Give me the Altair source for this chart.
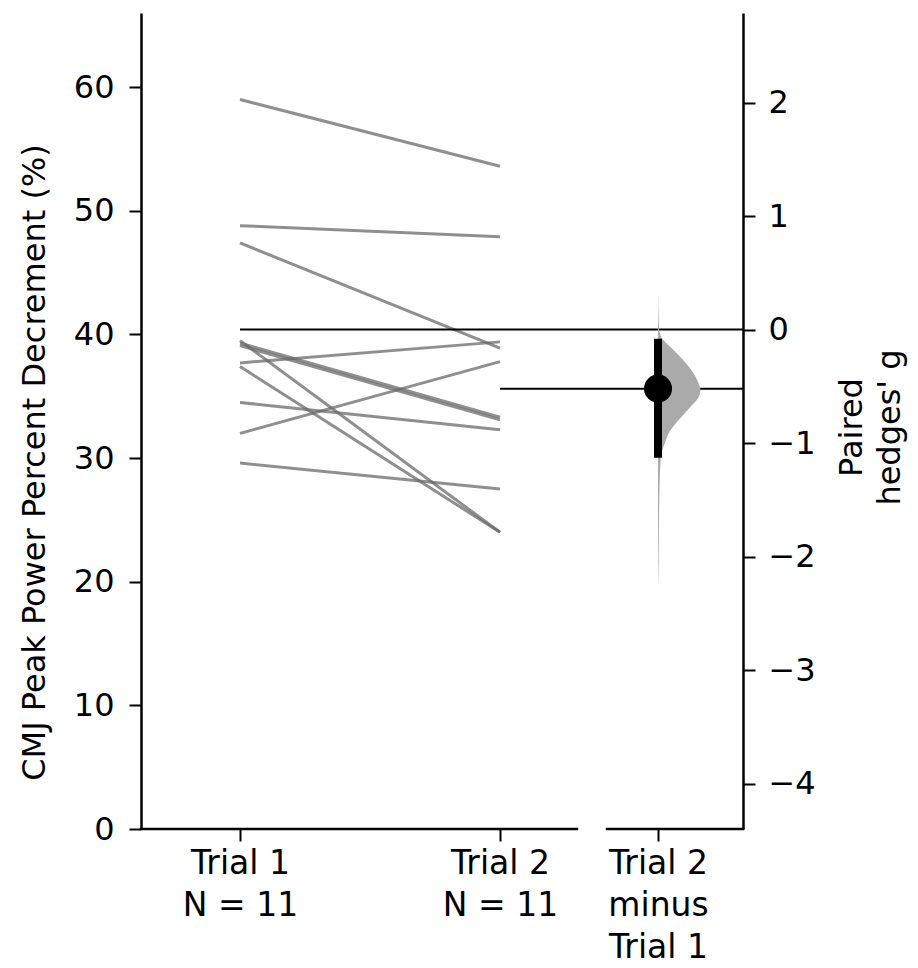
import altair as alt
import pandas as pd

# ---------------- data ----------------
groups = ["Trial 1", "Trial 2"]
trial1 = [59.0, 48.8, 47.4, 39.5, 39.3, 39.1, 37.7, 37.4, 34.5, 32.0, 29.6]
trial2 = [53.6, 47.9, 38.9, 24.0, 33.3, 33.1, 39.4, 24.0, 32.3, 37.8, 27.5]

effect_size = -0.52          # paired Hedges' g
ci_low, ci_high = -1.13, -0.08

violin_g = [0.31, 0.13, 0.01, -0.02, -0.09, -0.16, -0.24, -0.31, -0.38, -0.45,
            -0.53, -0.60, -0.67, -0.75, -0.82, -0.89, -0.97, -1.04, -1.11,
            -1.18, -1.33, -1.62, -1.91, -2.20, -2.25]
violin_density = [0.0, 0.012, 0.024, 0.036, 0.12, 0.31, 0.52, 0.69, 0.83, 0.93,
                  1.0, 0.95, 0.79, 0.60, 0.43, 0.29, 0.19, 0.12, 0.07,
                  0.055, 0.04, 0.024, 0.017, 0.007, 0.0]

left_ticks = [0, 10, 20, 30, 40, 50, 60]
right_ticks = [-4, -3, -2, -1, 0, 1, 2]

# ---------------- layout helpers ----------------
FONT = "DejaVu Sans"
W, H = 602, 816
x_min, x_max = -0.3808, 1.9346      # x units: Trial 1 = 0, Trial 2 = 1
delta_pos = 1.6077
gap_left, gap_right = 1.296, 1.4115
y_top = 66.0
violin_max_w = 0.163

n = len(trial1)
m1 = sum(trial1) / n
m2 = sum(trial2) / n
k = (m2 - m1) / effect_size           # raw units per g unit
g_min = (0 - m1) / k
g_max = (y_top - m1) / k

rows = []
for i in range(n):
    rows.append({"subject": i, "pos": 0, "value": trial1[i]})
    rows.append({"subject": i, "pos": 1, "value": trial2[i]})
df_lines = pd.DataFrame(rows)

df_means = pd.DataFrame({"pos": [0, 1], "x2": [x_max, x_max], "value": [m1, m2]})
df_spine = pd.DataFrame({"pos": [x_min, gap_right], "x2": [gap_left, x_max], "value": [0, 0]})

df_v = pd.DataFrame({
    "g": violin_g,
    "pos": [delta_pos] * len(violin_g),
    "x1": [delta_pos + d * violin_max_w for d in violin_density],
})
df_ci = pd.DataFrame({"pos": [delta_pos], "g": [effect_size], "hi": [ci_high], "lo": [ci_low]})

x_scale = alt.Scale(domain=[x_min, x_max], nice=False, zero=False)
yl_scale = alt.Scale(domain=[0, y_top], nice=False, zero=False)
yr_scale = alt.Scale(domain=[g_min, g_max], nice=False, zero=False)

x_axis = alt.Axis(
    values=[0, 1, delta_pos], title=None, domain=False,
    labelExpr="datum.value < 0.5 ? ['Trial 1', 'N = 11'] : datum.value < 1.5 ? ['Trial 2', 'N = 11'] : ['Trial 2', 'minus', 'Trial 1']",
    labelPadding=6, labelLineHeight=42, labelOverlap=False, labelBound=False,
    labelFlush=False, labelFontSize=33,
)
left_axis = alt.Axis(
    values=left_ticks, format="d", title="CMJ Peak Power Percent Decrement (%)",
    labelPadding=15, titlePadding=22, titleY=449, labelFontSize=32,
)
right_axis = alt.Axis(
    orient="right", values=right_ticks, format="d",
    title=["Paired", "hedges' g"], titleAngle=270, titleBaseline="top",
    titlePadding=-17, titleLineHeight=38, labelPadding=13, labelFontSize=32,
    titleY=414,
)

X = alt.X("pos:Q", scale=x_scale, axis=x_axis)
YL = alt.Y("value:Q", scale=yl_scale, axis=left_axis)

lines = alt.Chart(df_lines).mark_line(color="#6a6a6a", opacity=0.75, strokeWidth=3).encode(
    x=X, y=YL, detail="subject:N",
)
mean_rules = alt.Chart(df_means).mark_rule(color="black", strokeWidth=2).encode(
    x=X, x2="x2:Q", y=YL,
)
spines = alt.Chart(df_spine).mark_rule(color="black", strokeWidth=2.5, strokeCap="square").encode(
    x=X, x2="x2:Q", y=YL,
)
left_layer = alt.layer(lines, mean_rules, spines)

violin = alt.Chart(df_v).mark_area(orient="horizontal", color="#aaaaaa", interpolate="monotone").encode(
    y=alt.Y("g:Q", scale=yr_scale, axis=right_axis),
    x=X,
    x2="x1:Q",
)
ci = alt.Chart(df_ci).mark_rule(color="black", strokeWidth=8).encode(
    x=X,
    y=alt.Y("lo:Q", scale=yr_scale, axis=right_axis),
    y2="hi:Q",
)
dot = alt.Chart(df_ci).mark_circle(color="black", opacity=1, size=785).encode(
    x=X,
    y=alt.Y("g:Q", scale=yr_scale, axis=right_axis),
)
right_layer = alt.layer(violin, ci, dot)

chart = alt.layer(left_layer, right_layer).resolve_scale(y="independent").properties(
    width=W, height=H,
    autosize=alt.AutoSizeParams(type="none"),
    padding={"left": 133, "top": 5, "right": 167, "bottom": 139},
).configure_view(stroke=None).configure_axis(
    grid=False, domainColor="black", tickColor="black", labelColor="black",
    titleColor="black", labelFont=FONT, titleFont=FONT, labelFontSize=31,
    titleFontSize=32, titleFontWeight="normal", domainWidth=2.5, tickWidth=2,
    tickSize=12,
)

chart.save("out.html", embed_options={"renderer": "svg", "actions": False})
